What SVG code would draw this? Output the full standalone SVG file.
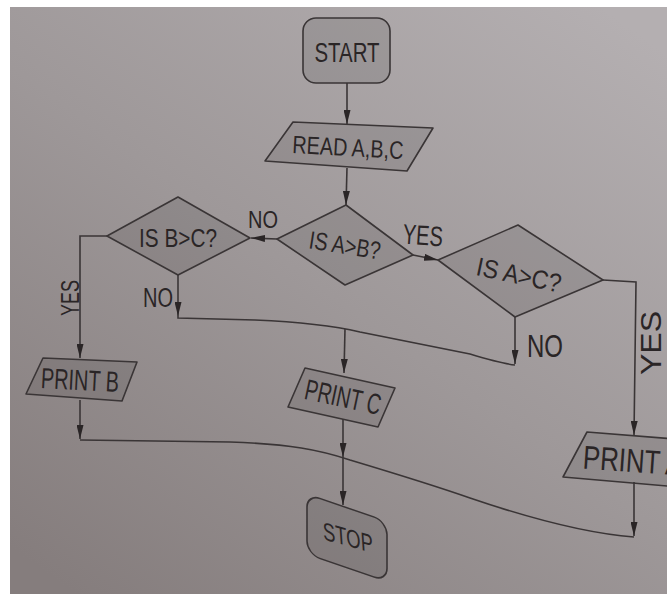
<svg xmlns="http://www.w3.org/2000/svg" width="667" height="594" viewBox="0 0 667 594">
<defs>
<style>
.shape{fill:#000;fill-opacity:0.09;stroke:#3a3536;stroke-width:1.6;stroke-linejoin:round}
.line{fill:none;stroke:#3a3536;stroke-width:1.6}
.t{font-family:"Liberation Sans",Arial,sans-serif;fill:#2a2526;text-anchor:middle}
</style>
<linearGradient id="bg" x1="0.9" y1="0" x2="0.1" y2="1">
<stop offset="0" stop-color="#b4afb1"/>
<stop offset="0.5" stop-color="#9e9899"/>
<stop offset="1" stop-color="#857d7d"/>
</linearGradient>
<marker id="ah" markerUnits="userSpaceOnUse" markerWidth="14" markerHeight="7" refX="14" refY="3.5" orient="auto">
<path d="M0,0 L14,3.5 L0,7 z" fill="#2a2526"/>
</marker>
</defs>
<rect x="0" y="0" width="667" height="594" fill="#ffffff"/>
<rect x="10" y="7" width="657" height="587" fill="url(#bg)"/>

<g id="connectors">
<path class="line" d="M347,83 L347,124" marker-end="url(#ah)"/>
<path class="line" d="M347,168 L346,205" marker-end="url(#ah)"/>
<path class="line" d="M277,239 L251,238" marker-end="url(#ah)"/>
<path class="line" d="M413,255 L438,260" marker-end="url(#ah)"/>
<path class="line" d="M107,236 L80,236 L80,358" marker-end="url(#ah)"/>
<path class="line" d="M178,275 L178,316" marker-end="url(#ah)"/>
<path class="line" d="M178,316 L178,318 L255,320 C300,322 330,325 360,332 L470,354 C490,360 505,364 515,365"/>
<path class="line" d="M515,317 L515,364" marker-end="url(#ah)"/>
<path class="line" d="M345,329 L344,373" marker-end="url(#ah)"/>
<path class="line" d="M603,280 L636,282 L634,435" marker-end="url(#ah)"/>
<path class="line" d="M80,400 L80,439" marker-end="url(#ah)"/>
<path class="line" d="M80,440 L230,442 C290,444 320,450 350,460 C390,472 430,484 470,498 C520,515 580,533 634,537"/>
<path class="line" d="M634,482 L634,536" marker-end="url(#ah)"/>
<path class="line" d="M343,419 L343,457" marker-end="url(#ah)"/>
<path class="line" d="M343,457 L343,505" marker-end="url(#ah)"/>
</g>

<g id="start">
<rect class="shape" x="303" y="18" width="87" height="65" rx="13"/>
<text class="t" x="347" y="62" font-size="27" textLength="65" lengthAdjust="spacingAndGlyphs">START</text>
</g>

<g id="read">
<polygon class="shape" points="293,122 433,128 407,171 265,161"/>
<text class="t" x="348" y="156" font-size="25" textLength="111" lengthAdjust="spacingAndGlyphs" transform="rotate(3 348 147)">READ A,B,C</text>
</g>

<g id="isAB">
<polygon class="shape" points="346,205 413,255 345,285 277,239"/>
<text class="t" x="345" y="254" font-size="25" textLength="72" lengthAdjust="spacingAndGlyphs" transform="rotate(9 345 245)">IS A&gt;B?</text>
</g>

<g id="isBC">
<polygon class="shape" points="178,197 250,238 178,275 107,236"/>
<text class="t" x="178" y="247" font-size="25" textLength="78" lengthAdjust="spacingAndGlyphs">IS B&gt;C?</text>
</g>

<g id="isAC">
<polygon class="shape" points="518,225 603,280 515,317 438,260"/>
<text class="t" x="519" y="284" font-size="26" textLength="86" lengthAdjust="spacingAndGlyphs" transform="rotate(12 519 275)">IS A&gt;C?</text>
</g>

<g id="printB">
<polygon class="shape" points="43,358 137,362 122,401 26,394"/>
<text class="t" x="80" y="390" font-size="29" textLength="78" lengthAdjust="spacingAndGlyphs" transform="rotate(3 80 380)">PRINT B</text>
</g>

<g id="printC">
<polygon class="shape" points="305,368 395,388 378,427 288,407"/>
<text class="t" x="343" y="407" font-size="29" textLength="77" lengthAdjust="spacingAndGlyphs" transform="rotate(12 343 397)">PRINT C</text>
</g>

<g id="printA">
<polygon class="shape" points="587,432 700,441 690,488 563,477"/>
<text class="t" x="633" y="472" font-size="33" textLength="100" lengthAdjust="spacingAndGlyphs" transform="rotate(4 633 460)">PRINT A</text>
</g>

<g id="stop">
<g transform="translate(307,494) skewY(19)">
<rect class="shape" x="0" y="0" width="80" height="60" rx="13"/>
<text class="t" x="41" y="38" font-size="25" textLength="50" lengthAdjust="spacingAndGlyphs" transform="rotate(-4 41 30)">STOP</text>
</g>
</g>

<g id="labels">
<text class="t" x="263" y="228" font-size="23" textLength="30" lengthAdjust="spacingAndGlyphs">NO</text>
<text class="t" x="423" y="245" font-size="28" textLength="40" lengthAdjust="spacingAndGlyphs" transform="rotate(4 423 234)">YES</text>
<text class="t" x="158" y="307" font-size="27" textLength="30" lengthAdjust="spacingAndGlyphs">NO</text>
<text class="t" x="545" y="357" font-size="32" textLength="36" lengthAdjust="spacingAndGlyphs">NO</text>
<text class="t" x="70" y="307" font-size="25" textLength="36" lengthAdjust="spacingAndGlyphs" transform="rotate(-90 70 298)">YES</text>
<text class="t" x="649" y="355" font-size="30" textLength="64" lengthAdjust="spacingAndGlyphs" transform="rotate(-90 649 343)">YES</text>
</g>
</svg>
